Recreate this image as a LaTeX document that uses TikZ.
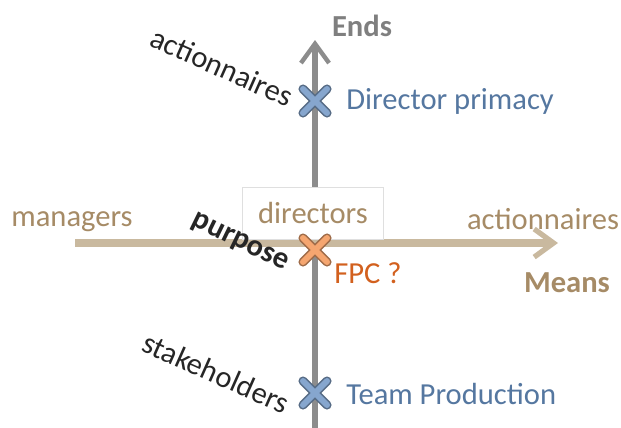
\documentclass[tikz,border=0pt]{standalone}
\usepackage{fontspec}
\setmainfont{Carlito}
\usetikzlibrary{arrows.meta,calc}

\definecolor{axisgray}{HTML}{8C8C8C}
\definecolor{endsgray}{HTML}{7F7F7F}
\definecolor{axistan}{HTML}{C9B99F}
\definecolor{tantext}{HTML}{A68B66}
\definecolor{bluetext}{HTML}{5577A0}
\definecolor{bluecross}{HTML}{86A6CE}
\definecolor{orangetext}{HTML}{D2601E}
\definecolor{orangecross}{HTML}{F5A670}
\definecolor{darktext}{HTML}{262626}

\tikzset{
	txt/.style={font=\fontsize{17.4}{20}\selectfont, inner sep=0pt},
	boldtxt/.style={txt, font=\fontsize{17.4}{20}\selectfont\bfseries},
	cross/.style={line cap=round},
}

\newcommand{\mycross}[2]{%
	\draw[cross,#2!65!black,line width=5.2pt] ($(#1)+(-12,-12)$)--($(#1)+(12,12)$) ($(#1)+(-12,12)$)--($(#1)+(12,-12)$);
	\draw[cross,#2,line width=3.4pt] ($(#1)+(-12,-12)$)--($(#1)+(12,12)$) ($(#1)+(-12,12)$)--($(#1)+(12,-12)$);
}

\begin{document}
\begin{tikzpicture}[x=0.02cm,y=-0.02cm]
	\useasboundingbox (0,0) rectangle (621,427);
	
	%axes
	\coordinate (vbot) at (315,430);
	\coordinate (vtop) at (315,40);
	\coordinate (hleft) at (75,243);
	\coordinate (hright) at (558,243);
	\draw[axisgray,line width=3.5pt,-{Straight Barb[length=11pt,width=16pt,line width=2.5pt]}] (vbot)--(vtop);
	\draw[axistan,line width=4.5pt,-{Straight Barb[length=11pt,width=16pt,line width=3pt]}] (hleft)--(hright);
	
	%axis names
	\node[boldtxt,text=endsgray] (ends) at (362,26) {Ends};
	\node[boldtxt,text=tantext] (means) at (567,283) {Means};
	
	%box
	\node[txt,draw=gray!25,fill=white,minimum width=2.82cm,minimum height=1.04cm,text=tantext] (directors) at (313,213) {directors};
	
	%horizontal labels
	\node[txt,text=tantext] (managers) at (72,222) {managers};
	\node[txt,text=tantext] (actR) at (543,219) {actionnaires};
	
	%crosses
	\coordinate (xtop) at (315,101);
	\coordinate (xmid) at (315,250);
	\coordinate (xbot) at (315,393);
	\mycross{xtop}{bluecross}
	\mycross{xmid}{orangecross}
	\mycross{xbot}{bluecross}
	
	%cross labels
	\node[txt,text=bluetext,anchor=west] (primacy) at (346,101) {Director primacy};
	\node[txt,text=orangetext,anchor=west] (fpc) at (334,273) {FPC ?};
	\node[txt,text=bluetext,anchor=west] (team) at (346,394) {Team Production};
	
	%rotated labels
	\node[txt,text=darktext,rotate=-24] (actL) at (222,67) {actionnaires};
	\node[boldtxt,text=darktext,rotate=-26] (purpose) at (240,243) {purpose};
	\node[txt,text=darktext,rotate=-24] (stake) at (216,373) {stakeholders};
\end{tikzpicture}
\end{document}
